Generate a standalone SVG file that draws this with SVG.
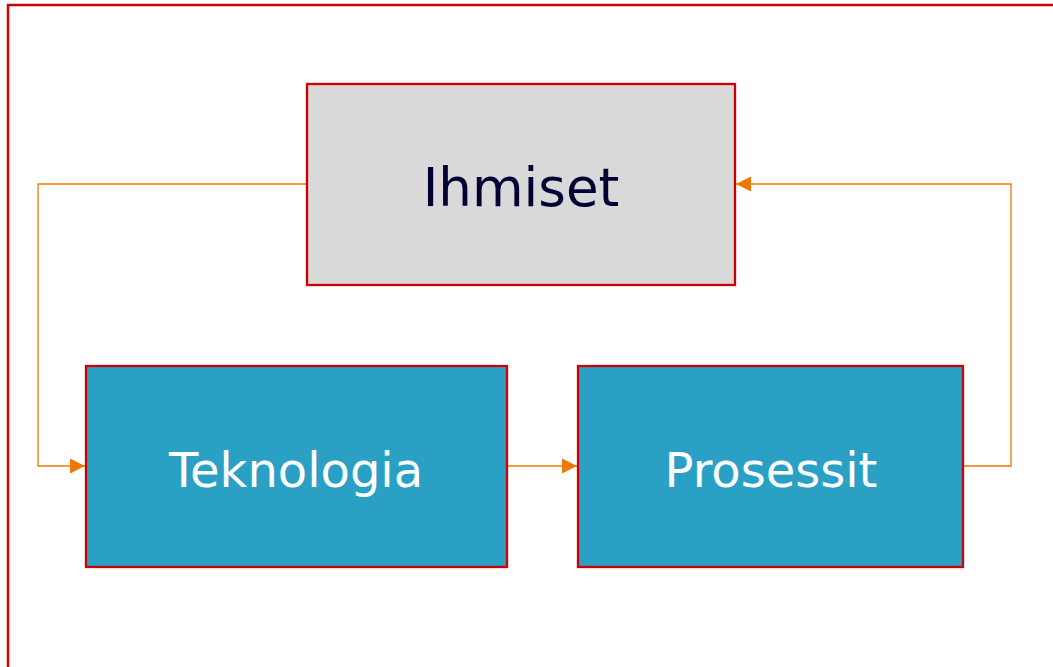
<svg xmlns="http://www.w3.org/2000/svg" width="1053" height="667" viewBox="0 0 1053 667">
<style>
.box{stroke:#cc0000;stroke-width:2.3}
.lbl{font-family:"DejaVu Sans",sans-serif;text-anchor:middle}
.conn{fill:none;stroke:#f07800;stroke-width:1.3}
</style>
<defs>
<marker id="ah" viewBox="0 0 10 10" refX="10" refY="5" markerWidth="15" markerHeight="16" markerUnits="userSpaceOnUse" orient="auto">
<path d="M0,0 L10,5 L0,10 Z" fill="#f07800"/>
</marker>
</defs>
<rect width="1053" height="667" fill="#ffffff"/>
<rect x="8" y="5" width="1100" height="700" fill="none" stroke="#cc0000" stroke-width="2.5"/>
<g id="connectors">
<path class="conn" d="M307,184 H38 V466 H85" marker-end="url(#ah)"/>
<path class="conn" d="M507,466 H577" marker-end="url(#ah)"/>
<path class="conn" d="M964,466 H1011 V184 H736" marker-end="url(#ah)"/>
</g>
<g id="ihmiset">
<rect class="box" x="307" y="84" width="428" height="201" fill="#d9d9d9"/>
<text class="lbl" x="521" y="206" font-size="53" fill="#000033">Ihmiset</text>
</g>
<g id="teknologia">
<rect class="box" x="86" y="366" width="421" height="201" fill="#2aa0c5"/>
<text class="lbl" x="296" y="487" font-size="48" fill="#ffffff">Teknologia</text>
</g>
<g id="prosessit">
<rect class="box" x="578" y="366" width="385" height="201" fill="#2aa0c5"/>
<text class="lbl" x="771" y="487" font-size="48" fill="#ffffff">Prosessit</text>
</g>
</svg>
